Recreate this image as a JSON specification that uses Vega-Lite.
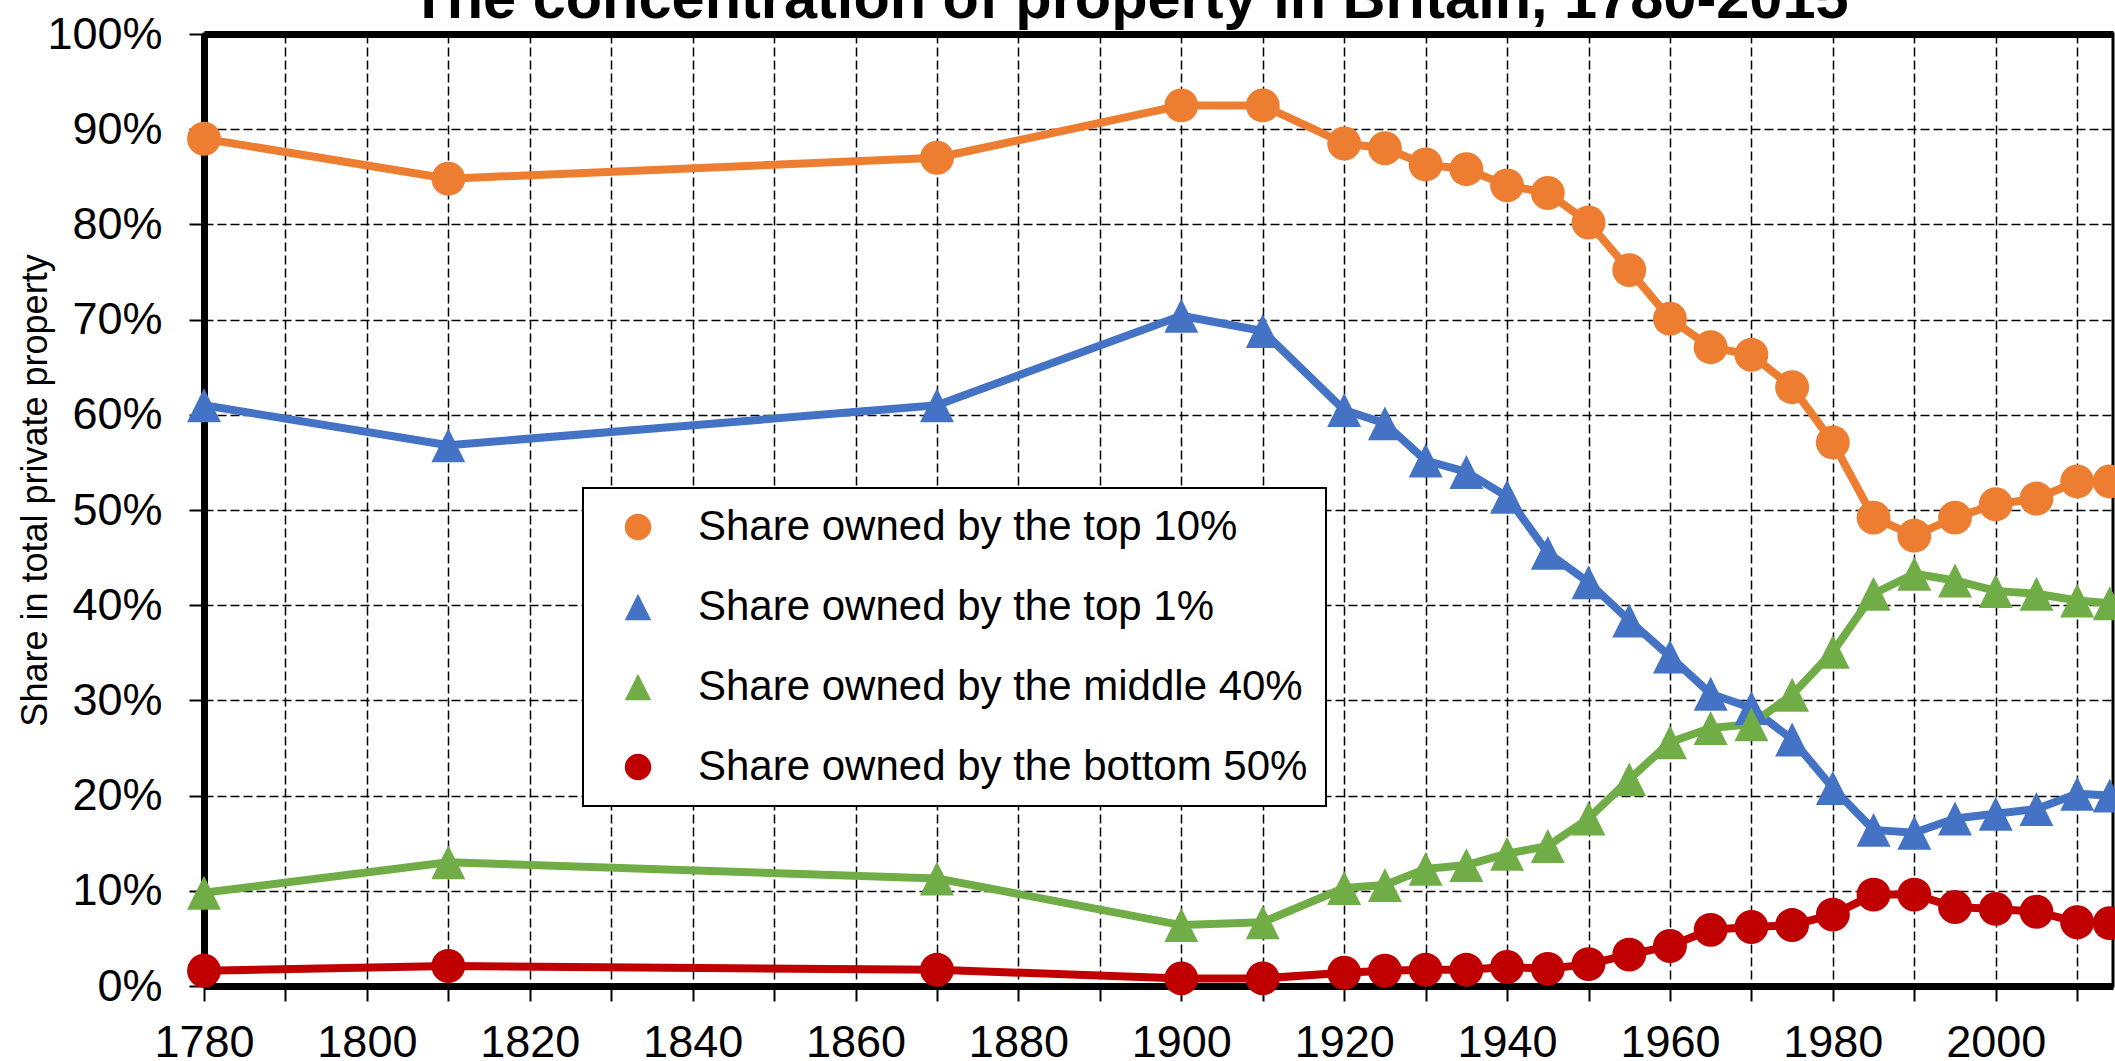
{
  "$schema": "https://vega.github.io/schema/vega-lite/v6.json",
  "autosize": {"type": "none"},
  "padding": {"left": 204, "top": 34, "right": 2, "bottom": 75},
  "width": 1909,
  "height": 952,
  "background": "white",
  "config": {
    "view": {"stroke": "black", "strokeWidth": 3},
    "font": "Liberation Sans",
    "legend": {"strokeWidth": 2}
  },
  "title": {
    "text": "The concentration of property in Britain, 1780-2015",
    "font": "Liberation Sans",
    "fontSize": 59.5,
    "fontWeight": "bold",
    "color": "black",
    "anchor": "middle",
    "baseline": "alphabetic",
    "offset": -65,
    "dx": -29
  },
  "data": {
    "values": [
      {"year": 1780, "series": "Share owned by the top 10%", "share": 0.890},
      {"year": 1810, "series": "Share owned by the top 10%", "share": 0.848},
      {"year": 1870, "series": "Share owned by the top 10%", "share": 0.870},
      {"year": 1900, "series": "Share owned by the top 10%", "share": 0.925},
      {"year": 1910, "series": "Share owned by the top 10%", "share": 0.925},
      {"year": 1920, "series": "Share owned by the top 10%", "share": 0.885},
      {"year": 1925, "series": "Share owned by the top 10%", "share": 0.880},
      {"year": 1930, "series": "Share owned by the top 10%", "share": 0.863},
      {"year": 1935, "series": "Share owned by the top 10%", "share": 0.858},
      {"year": 1940, "series": "Share owned by the top 10%", "share": 0.841},
      {"year": 1945, "series": "Share owned by the top 10%", "share": 0.833},
      {"year": 1950, "series": "Share owned by the top 10%", "share": 0.802},
      {"year": 1955, "series": "Share owned by the top 10%", "share": 0.752},
      {"year": 1960, "series": "Share owned by the top 10%", "share": 0.701},
      {"year": 1965, "series": "Share owned by the top 10%", "share": 0.671},
      {"year": 1970, "series": "Share owned by the top 10%", "share": 0.663},
      {"year": 1975, "series": "Share owned by the top 10%", "share": 0.629},
      {"year": 1980, "series": "Share owned by the top 10%", "share": 0.571},
      {"year": 1985, "series": "Share owned by the top 10%", "share": 0.492},
      {"year": 1990, "series": "Share owned by the top 10%", "share": 0.473},
      {"year": 1995, "series": "Share owned by the top 10%", "share": 0.492},
      {"year": 2000, "series": "Share owned by the top 10%", "share": 0.506},
      {"year": 2005, "series": "Share owned by the top 10%", "share": 0.512},
      {"year": 2010, "series": "Share owned by the top 10%", "share": 0.530},
      {"year": 2014, "series": "Share owned by the top 10%", "share": 0.530},
      {"year": 1780, "series": "Share owned by the top 1%", "share": 0.610},
      {"year": 1810, "series": "Share owned by the top 1%", "share": 0.568},
      {"year": 1870, "series": "Share owned by the top 1%", "share": 0.610},
      {"year": 1900, "series": "Share owned by the top 1%", "share": 0.704},
      {"year": 1910, "series": "Share owned by the top 1%", "share": 0.688},
      {"year": 1920, "series": "Share owned by the top 1%", "share": 0.605},
      {"year": 1925, "series": "Share owned by the top 1%", "share": 0.591},
      {"year": 1930, "series": "Share owned by the top 1%", "share": 0.552},
      {"year": 1935, "series": "Share owned by the top 1%", "share": 0.540},
      {"year": 1940, "series": "Share owned by the top 1%", "share": 0.514},
      {"year": 1945, "series": "Share owned by the top 1%", "share": 0.455},
      {"year": 1950, "series": "Share owned by the top 1%", "share": 0.424},
      {"year": 1955, "series": "Share owned by the top 1%", "share": 0.384},
      {"year": 1960, "series": "Share owned by the top 1%", "share": 0.346},
      {"year": 1965, "series": "Share owned by the top 1%", "share": 0.307},
      {"year": 1970, "series": "Share owned by the top 1%", "share": 0.292},
      {"year": 1975, "series": "Share owned by the top 1%", "share": 0.259},
      {"year": 1980, "series": "Share owned by the top 1%", "share": 0.208},
      {"year": 1985, "series": "Share owned by the top 1%", "share": 0.164},
      {"year": 1990, "series": "Share owned by the top 1%", "share": 0.161},
      {"year": 1995, "series": "Share owned by the top 1%", "share": 0.176},
      {"year": 2000, "series": "Share owned by the top 1%", "share": 0.181},
      {"year": 2005, "series": "Share owned by the top 1%", "share": 0.186},
      {"year": 2010, "series": "Share owned by the top 1%", "share": 0.202},
      {"year": 2014, "series": "Share owned by the top 1%", "share": 0.200},
      {"year": 1780, "series": "Share owned by the middle 40%", "share": 0.098},
      {"year": 1810, "series": "Share owned by the middle 40%", "share": 0.130},
      {"year": 1870, "series": "Share owned by the middle 40%", "share": 0.113},
      {"year": 1900, "series": "Share owned by the middle 40%", "share": 0.064},
      {"year": 1910, "series": "Share owned by the middle 40%", "share": 0.067},
      {"year": 1920, "series": "Share owned by the middle 40%", "share": 0.103},
      {"year": 1925, "series": "Share owned by the middle 40%", "share": 0.106},
      {"year": 1930, "series": "Share owned by the middle 40%", "share": 0.123},
      {"year": 1935, "series": "Share owned by the middle 40%", "share": 0.127},
      {"year": 1940, "series": "Share owned by the middle 40%", "share": 0.139},
      {"year": 1945, "series": "Share owned by the middle 40%", "share": 0.147},
      {"year": 1950, "series": "Share owned by the middle 40%", "share": 0.176},
      {"year": 1955, "series": "Share owned by the middle 40%", "share": 0.217},
      {"year": 1960, "series": "Share owned by the middle 40%", "share": 0.256},
      {"year": 1965, "series": "Share owned by the middle 40%", "share": 0.271},
      {"year": 1970, "series": "Share owned by the middle 40%", "share": 0.275},
      {"year": 1975, "series": "Share owned by the middle 40%", "share": 0.306},
      {"year": 1980, "series": "Share owned by the middle 40%", "share": 0.351},
      {"year": 1985, "series": "Share owned by the middle 40%", "share": 0.412},
      {"year": 1990, "series": "Share owned by the middle 40%", "share": 0.433},
      {"year": 1995, "series": "Share owned by the middle 40%", "share": 0.426},
      {"year": 2000, "series": "Share owned by the middle 40%", "share": 0.415},
      {"year": 2005, "series": "Share owned by the middle 40%", "share": 0.412},
      {"year": 2010, "series": "Share owned by the middle 40%", "share": 0.405},
      {"year": 2014, "series": "Share owned by the middle 40%", "share": 0.402},
      {"year": 1780, "series": "Share owned by the bottom 50%", "share": 0.016},
      {"year": 1810, "series": "Share owned by the bottom 50%", "share": 0.021},
      {"year": 1870, "series": "Share owned by the bottom 50%", "share": 0.017},
      {"year": 1900, "series": "Share owned by the bottom 50%", "share": 0.008},
      {"year": 1910, "series": "Share owned by the bottom 50%", "share": 0.008},
      {"year": 1920, "series": "Share owned by the bottom 50%", "share": 0.014},
      {"year": 1925, "series": "Share owned by the bottom 50%", "share": 0.016},
      {"year": 1930, "series": "Share owned by the bottom 50%", "share": 0.017},
      {"year": 1935, "series": "Share owned by the bottom 50%", "share": 0.017},
      {"year": 1940, "series": "Share owned by the bottom 50%", "share": 0.020},
      {"year": 1945, "series": "Share owned by the bottom 50%", "share": 0.018},
      {"year": 1950, "series": "Share owned by the bottom 50%", "share": 0.023},
      {"year": 1955, "series": "Share owned by the bottom 50%", "share": 0.033},
      {"year": 1960, "series": "Share owned by the bottom 50%", "share": 0.042},
      {"year": 1965, "series": "Share owned by the bottom 50%", "share": 0.059},
      {"year": 1970, "series": "Share owned by the bottom 50%", "share": 0.062},
      {"year": 1975, "series": "Share owned by the bottom 50%", "share": 0.064},
      {"year": 1980, "series": "Share owned by the bottom 50%", "share": 0.075},
      {"year": 1985, "series": "Share owned by the bottom 50%", "share": 0.096},
      {"year": 1990, "series": "Share owned by the bottom 50%", "share": 0.096},
      {"year": 1995, "series": "Share owned by the bottom 50%", "share": 0.083},
      {"year": 2000, "series": "Share owned by the bottom 50%", "share": 0.081},
      {"year": 2005, "series": "Share owned by the bottom 50%", "share": 0.078},
      {"year": 2010, "series": "Share owned by the bottom 50%", "share": 0.067},
      {"year": 2014, "series": "Share owned by the bottom 50%", "share": 0.066}
    ]
  },
  "resolve": {"axis": {"x": "independent"}},
  "layer": [
    {
      "mark": {"type": "line", "strokeWidth": 8, "strokeJoin": "round", "strokeCap": "round"},
      "encoding": {
        "x": {
          "field": "year", "type": "quantitative",
          "scale": {"domain": [1780, 2014.4], "nice": false, "zero": false},
          "axis": {"orient": "top", "labels": false, "ticks": false, "grid": false, "title": null, "domainColor": "black", "domainWidth": 7}
        },
        "y": {
          "field": "share", "type": "quantitative",
          "scale": {"domain": [0, 1], "nice": false},
          "axis": {
            "values": [0, 0.1, 0.2, 0.3, 0.4, 0.5, 0.6, 0.7, 0.8, 0.9, 1],
            "format": ".0%",
            "grid": true, "gridColor": "black", "gridDash": [9, 4], "gridWidth": 1.5, "gridOpacity": 1,
            "domainColor": "black", "domainWidth": 7,
            "tickColor": "black", "tickWidth": 2, "tickSize": 15,
            "labelFont": "Liberation Sans", "labelFontSize": 45, "labelColor": "black", "labelPadding": 27,
            "title": "Share in total private property",
            "titleFont": "Liberation Sans", "titleFontSize": 36, "titleFontWeight": "normal", "titleColor": "black",
            "titleX": -169, "titleY": 456, "titleAngle": -90, "titleAlign": "center", "titleBaseline": "middle"
          }
        },
        "stroke": {
          "field": "series", "type": "nominal",
          "scale": {"range": ["#C00000", "#70AD47", "#4472C4", "#ED7D31"]},
          "legend": null
        },
        "detail": {"field": "series"}
      }
    },
    {
      "mark": {"type": "point", "filled": true, "opacity": 1, "size": 1150, "strokeWidth": 0},
      "encoding": {
        "x": {
          "field": "year", "type": "quantitative",
          "axis": {
            "orient": "bottom",
            "values": [1780, 1790, 1800, 1810, 1820, 1830, 1840, 1850, 1860, 1870, 1880, 1890, 1900, 1910, 1920, 1930, 1940, 1950, 1960, 1970, 1980, 1990, 2000, 2010],
            "labelExpr": "datum.value % 20 == 0 ? datum.value + '' : ''",
            "grid": true, "gridColor": "black", "gridDash": [9, 4], "gridWidth": 1.5, "gridOpacity": 1,
            "domainColor": "black", "domainWidth": 7,
            "tickColor": "black", "tickWidth": 2, "tickSize": 15,
            "labelFont": "Liberation Sans", "labelFontSize": 45, "labelColor": "black", "labelPadding": 19,
            "labelOverlap": false, "labelBound": false, "labelFlush": false,
            "title": null
          }
        },
        "y": {"field": "share", "type": "quantitative"},
        "color": {
          "field": "series", "type": "nominal",
          "scale": {
            "domain": ["Share owned by the top 10%", "Share owned by the top 1%", "Share owned by the middle 40%", "Share owned by the bottom 50%"],
            "range": ["#ED7D31", "#4472C4", "#70AD47", "#C00000"]
          },
          "legend": {
            "orient": "none", "legendX": 379, "legendY": 454,
            "title": null,
            "symbolSize": 700,
            "symbolOffset": 16,
            "labelFont": "Liberation Sans", "labelFontSize": 42, "labelColor": "black",
            "labelOffset": 39, "labelLimit": 1000,
            "rowPadding": 38, "padding": 18,
            "strokeColor": "black", "fillColor": "white"
          }
        },
        "shape": {
          "field": "series", "type": "nominal",
          "scale": {
            "domain": ["Share owned by the top 10%", "Share owned by the top 1%", "Share owned by the middle 40%", "Share owned by the bottom 50%"],
            "range": ["circle", "M0,-1L1,1L-1,1Z", "M0,-1L1,1L-1,1Z", "circle"]
          }
        }
      }
    }
  ]
}
